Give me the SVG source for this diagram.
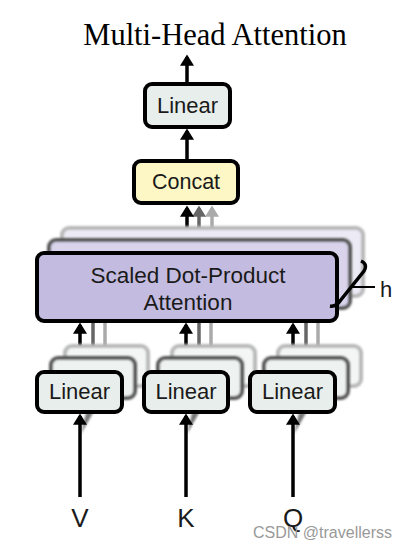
<svg xmlns="http://www.w3.org/2000/svg" width="407" height="550" viewBox="0 0 407 550">
<defs>
<style>
.t{font-family:"Liberation Sans",Arial,sans-serif;fill:#1a1a1a;text-anchor:middle}
.box{stroke:#000;stroke-width:4}
.lin{fill:#e8eeeb}
.c1{fill:none;stroke:#000;stroke-width:3.5}
.c2{fill:none;stroke:#666;stroke-width:3.5}
.c3{fill:none;stroke:#aaa;stroke-width:3.5}
</style>
<marker id="a1" markerWidth="4" markerHeight="4" refX="2.5" refY="2" orient="auto" markerUnits="strokeWidth"><path d="M0,0 L3.2,2 L0,4 Z" fill="#000"/></marker>
<marker id="a2" markerWidth="4" markerHeight="4" refX="2.5" refY="2" orient="auto" markerUnits="strokeWidth"><path d="M0,0 L3.2,2 L0,4 Z" fill="#666"/></marker>
<marker id="a3" markerWidth="4" markerHeight="4" refX="2.5" refY="2" orient="auto" markerUnits="strokeWidth"><path d="M0,0 L3.2,2 L0,4 Z" fill="#aaa"/></marker>
<filter id="sh" x="-10%" y="-10%" width="130%" height="140%"><feGaussianBlur stdDeviation="1"/></filter>
</defs>
<rect width="407" height="550" fill="#fff"/>
<text x="215" y="45" font-family="'Liberation Serif','Times New Roman',serif" font-size="30.5" text-anchor="middle" fill="#000">Multi-Head Attention</text>

<g id="connectors">
<line class="c3" x1="105" y1="346" x2="105" y2="322"/>
<line class="c2" x1="93" y1="358" x2="93" y2="322"/>
<line class="c3" x1="211" y1="346" x2="211" y2="322"/>
<line class="c2" x1="199" y1="358" x2="199" y2="322"/>
<line class="c3" x1="318" y1="346" x2="318" y2="322"/>
<line class="c2" x1="306" y1="358" x2="306" y2="322"/>
<line class="c3" x1="212" y1="228" x2="212" y2="208" marker-end="url(#a3)"/>
<line class="c2" x1="199" y1="240" x2="199" y2="208" marker-end="url(#a2)"/>
<line class="c1" x1="187" y1="253" x2="187" y2="208" marker-end="url(#a1)"/>
<line class="c1" x1="187" y1="161" x2="187" y2="131" marker-end="url(#a1)"/>
<line class="c1" x1="187" y1="84" x2="187" y2="57" marker-end="url(#a1)"/>
<line class="c1" x1="80" y1="372" x2="80" y2="325" marker-end="url(#a1)"/>
<line class="c1" x1="186" y1="372" x2="186" y2="325" marker-end="url(#a1)"/>
<line class="c1" x1="293" y1="372" x2="293" y2="325" marker-end="url(#a1)"/>
<g filter="url(#sh)">
<path d="M81,434 L93,413 L86,413 Z" fill="#777"/>
<path d="M187,434 L199,413 L192,413 Z" fill="#777"/>
<path d="M294,434 L306,413 L299,413 Z" fill="#777"/>
</g>
<line class="c1" x1="80" y1="497" x2="80" y2="416" marker-end="url(#a1)"/>
<line class="c1" x1="186" y1="497" x2="186" y2="416" marker-end="url(#a1)"/>
<line class="c1" x1="293" y1="497" x2="293" y2="416" marker-end="url(#a1)"/>
</g>

<g id="linear-out">
<rect class="box lin" x="145" y="84" width="85" height="43" rx="7"/>
<text class="t" x="187.5" y="113" font-size="22">Linear</text>
</g>

<g id="concat">
<rect class="box" x="134" y="161" width="104" height="42" rx="7" fill="#fcf7c5"/>
<text class="t" x="186" y="189" font-size="21.5">Concat</text>
</g>

<g id="attention">
<rect x="62" y="228" width="301" height="68" rx="7" fill="#ecebf5" stroke="#b8b8b8" stroke-width="4" filter="url(#sh)"/>
<rect x="49" y="240" width="301" height="68" rx="7" fill="#d9d4ec" stroke="#555" stroke-width="4" filter="url(#sh)"/>
<rect class="box" x="37" y="253" width="300" height="68" rx="7" fill="#c4bce0"/>
<text class="t" x="188" y="283" font-size="22.5">Scaled Dot-Product</text>
<text class="t" x="188" y="310" font-size="22.5">Attention</text>
</g>

<g id="h-brace">
<path d="M361,261 Q368,264 364,271 L340,301 Q336,307 330,306" fill="none" stroke="#000" stroke-width="3.5"/>
<line x1="352" y1="287" x2="375" y2="287" stroke="#000" stroke-width="2"/>
<text class="t" x="386" y="297" font-size="22">h</text>
</g>

<g id="linear-v">
<rect x="65" y="346" width="83" height="40" rx="7" fill="#f3f6f5" stroke="#b8b8b8" stroke-width="4" filter="url(#sh)"/>
<rect x="51" y="358" width="84" height="40" rx="7" fill="#eef2f0" stroke="#555" stroke-width="4" filter="url(#sh)"/>
<rect class="box lin" x="37" y="372" width="85" height="40" rx="7"/>
<text class="t" x="79.5" y="399" font-size="22">Linear</text>
</g>
<g id="linear-k">
<rect x="172" y="346" width="83" height="40" rx="7" fill="#f3f6f5" stroke="#b8b8b8" stroke-width="4" filter="url(#sh)"/>
<rect x="158" y="358" width="84" height="40" rx="7" fill="#eef2f0" stroke="#555" stroke-width="4" filter="url(#sh)"/>
<rect class="box lin" x="144" y="372" width="84" height="40" rx="7"/>
<text class="t" x="186" y="399" font-size="22">Linear</text>
</g>
<g id="linear-q">
<rect x="278" y="346" width="83" height="40" rx="7" fill="#f3f6f5" stroke="#b8b8b8" stroke-width="4" filter="url(#sh)"/>
<rect x="264" y="358" width="84" height="40" rx="7" fill="#eef2f0" stroke="#555" stroke-width="4" filter="url(#sh)"/>
<rect class="box lin" x="250" y="372" width="85" height="40" rx="7"/>
<text class="t" x="292.5" y="399" font-size="22">Linear</text>
</g>

<g id="labels">
<text class="t" x="80" y="527" font-size="26">V</text>
<text class="t" x="186" y="527" font-size="26">K</text>
<text class="t" x="293" y="527" font-size="26">Q</text>
</g>
<text x="392" y="538" font-family="'Liberation Sans',Arial,sans-serif" font-size="16" fill="#999" text-anchor="end">CSDN @travellerss</text>
</svg>
